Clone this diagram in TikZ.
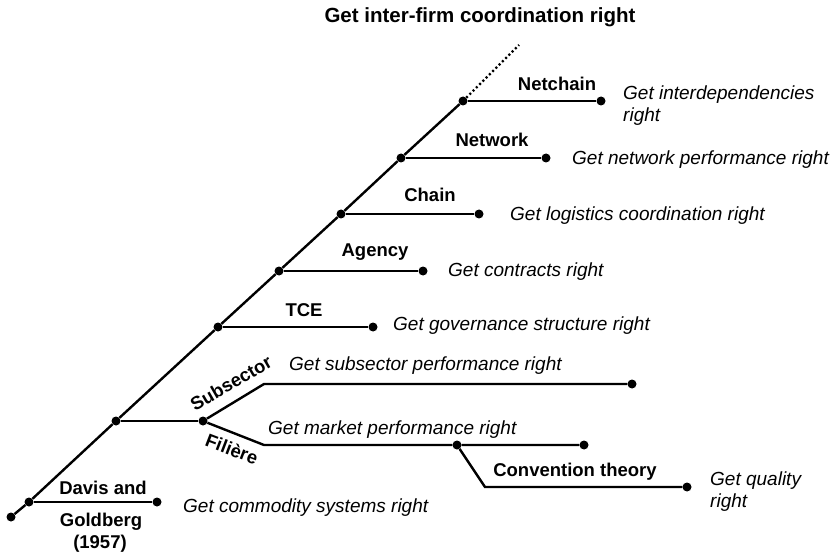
\documentclass[tikz,border=0pt]{standalone}
\usepackage{fontspec}
\setmainfont{Liberation Sans}
\begin{document}
\begin{tikzpicture}[x=1pt,y=-1pt,
  ln/.style={line width=2.4pt},
  dot/.style={circle,fill=black,inner sep=0pt,minimum size=9pt},
  lab/.style={font=\fontsize{18.5}{21}\selectfont\bfseries,inner sep=0pt},
  ann/.style={font=\fontsize{19}{22}\selectfont\itshape,anchor=west,align=left,inner sep=0pt}]
\useasboundingbox (0,0) rectangle (835,556);
% junctions on the main line
\node[dot] (j0) at (11,517) {};
\node[dot] (jd) at (29,502) {};
\node[dot] (js) at (116,421) {};
\node[dot] (jt) at (218,327) {};
\node[dot] (ja) at (279,271) {};
\node[dot] (jc) at (341,214) {};
\node[dot] (jw) at (401,158) {};
\node[dot] (jn) at (463,101) {};
\coordinate (top) at (519,45);
% branch ends
\node[dot] (ed) at (157,502) {};
\node[dot] (et) at (373,327) {};
\node[dot] (ea) at (423,271) {};
\node[dot] (ec) at (479,214) {};
\node[dot] (ew) at (546,158) {};
\node[dot] (en) at (601,101) {};
\node[dot] (sp) at (203,421) {};
\coordinate (sb) at (264,384);
\node[dot] (se) at (632,384) {};
\coordinate (fb) at (264,445);
\node[dot] (cj) at (457,445) {};
\node[dot] (fe) at (584,445) {};
\coordinate (cb) at (485,487);
\node[dot] (ce) at (687,487) {};
% lines
\draw[ln] (j0) -- (jd) -- (js) -- (jt) -- (ja) -- (jc) -- (jw) -- (jn);
\draw[line width=2.4pt,dash pattern=on 2pt off 2.6pt] (jn) -- (top);
\draw[ln] (jd) -- (ed);
\draw[ln] (jt) -- (et);
\draw[ln] (ja) -- (ea);
\draw[ln] (jc) -- (ec);
\draw[ln] (jw) -- (ew);
\draw[ln] (jn) -- (en);
\draw[ln] (js) -- (sp);
\draw[ln] (sp) -- (sb) -- (se);
\draw[ln] (sp) -- (fb) -- (cj) -- (fe);
\draw[ln] (cj) -- (cb) -- (ce);
% title
\node[lab,font=\fontsize{20.5}{24}\selectfont\bfseries] (title) at (480,17) {Get inter-firm coordination right};
% bold labels
\node[lab] (lnet) at (557,84) {Netchain};
\node[lab] (lnw) at (492,140) {Network};
\node[lab] (lch) at (430,195) {Chain};
\node[lab] (lag) at (375,252) {Agency};
\node[lab] (ltc) at (304,310) {TCE};
\node[lab,rotate=30] (lsub) at (231,383) {Subsector};
\node[lab,rotate=-21] (lfil) at (232,449) {Filière};
\node[lab] (lcon) at (575,472) {Convention theory};
\node[lab] (ldav) at (103,488) {Davis and};
\node[lab] (lgol) at (101,522) {Goldberg};
\node[lab] (lyr) at (100,544) {(1957)};
% annotations
\node[ann] (anet) at (623,106) {Get interdependencies\\right};
\node[ann] (anw) at (572,160) {Get network performance right};
\node[ann] (ach) at (510,216) {Get logistics coordination right};
\node[ann] (aag) at (448,272) {Get contracts right};
\node[ann] (atc) at (393,326) {Get governance structure right};
\node[ann] (asub) at (289,366) {Get subsector performance right};
\node[ann] (amk) at (268,430) {Get market performance right};
\node[ann] (aqu) at (710,492) {Get quality\\right};
\node[ann] (acom) at (183,508) {Get commodity systems right};
\end{tikzpicture}
\end{document}
